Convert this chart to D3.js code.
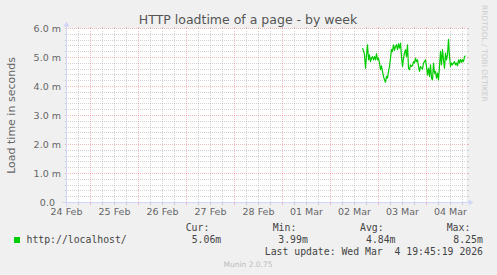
<!DOCTYPE html>
<html>
<head>
<meta charset="utf-8">
<script src="https://cdn.jsdelivr.net/npm/d3@7"></script>
<style>
    body { margin: 0; background: #f0f0f0; }
    svg { display: block; }
</style>
</head>
<body>
<div class="res"></div>
<script>
/**
 * DATA
 */
const title = 'HTTP loadtime of a page - by week';
const yLabel = 'Load time in seconds';
const yTicks = [0, 1, 2, 3, 4, 5, 6];
const yTickLabels = ['0.0\u00a0\u00a0', '1.0 m', '2.0 m', '3.0 m', '4.0 m', '5.0 m', '6.0 m'];
const dayTicks = ['2026-02-24', '2026-02-25', '2026-02-26', '2026-02-27', '2026-02-28',
    '2026-03-01', '2026-03-02', '2026-03-03', '2026-03-04'];
const dayTickLabels = ['24 Feb', '25 Feb', '26 Feb', '27 Feb', '28 Feb',
    '01 Mar', '02 Mar', '03 Mar', '04 Mar'];
const timeStart = '2026-02-24T00:00:00Z';
const timeEnd = '2026-03-04T08:00:00Z';

const seriesName = 'http://localhost/';
const seriesStart = '2026-03-02T04:00:00Z';
const seriesStepMin = 30;
// load time in milliseconds, one value per 30 minutes
const loadtime = [
    5.32, 5.24, 5.09, 4.63, 5.09, 5.44, 4.92, 5.09, 4.86, 4.98,
    5.03, 4.92, 5.03, 4.92, 5.13, 4.92, 4.98, 4.81, 4.58, 4.71,
    4.52, 4.35, 4.23, 4.15, 4.35, 4.29, 4.52, 4.69, 4.98, 5.27,
    5.21, 5.44, 5.25, 5.38, 5.44, 5.27, 5.47, 5.32, 5.50, 5.03,
    4.69, 4.98, 5.15, 5.27, 5.03, 5.44, 4.63, 4.58, 4.75, 4.69,
    4.72, 4.86, 4.81, 4.98, 4.86, 4.92, 4.69, 4.52, 4.69, 4.64,
    4.60, 4.81, 4.86, 4.92, 4.69, 4.40, 4.63, 4.35, 4.75, 4.29,
    4.23, 4.80, 4.46, 4.52, 4.29, 4.46, 4.23, 4.69, 5.21, 4.75,
    5.27, 4.92, 4.63, 5.15, 4.92, 5.09, 5.63, 5.03, 4.69, 4.81,
    4.75, 4.81, 4.86, 4.75, 4.81, 4.71, 4.92, 4.81, 4.94, 4.83,
    4.92, 4.86, 5.03, 5.06
];
const statNames = ['Cur:', 'Min:', 'Avg:', 'Max:'];
const statValues = ['5.06m', '3.99m', '4.84m', '8.25m'];
const lastUpdate = 'Last update: Wed Mar  4 19:45:19 2026';
const version = 'Munin 2.0.75';
const watermark = 'RRDTOOL / TOBI OETIKER';

/**
 * LAYOUT
 */
const W = 497, H = 275;
const plot = { left: 66.5, right: 466.5, top: 28.5, bottom: 202.5 };
const green = '#00cc00';
const fontColor = '#666666';
const textColor = '#444444';
const gridColor = 'rgba(143,143,143,0.4)';
const mgridColor = 'rgba(222,79,79,0.38)';
const axisColor = '#cfd6f8';

const svg = d3.select('div.res')
    .append('svg')
    .attr('width', W)
    .attr('height', H)
    .style('background', '#f0f0f0')
    .style('font-family', 'DejaVu Sans');

/**
 * SCALES
 */
const xScale = d3.scaleUtc()
    .domain([new Date(timeStart), new Date(timeEnd)])
    .range([plot.left, plot.right]);

const yScale = d3.scaleLinear()
    .domain([0, 6])
    .range([plot.bottom, plot.top]);

// canvas
svg.append('rect')
    .attr('x', plot.left)
    .attr('y', plot.top)
    .attr('width', plot.right - plot.left)
    .attr('height', plot.bottom - plot.top)
    .attr('fill', '#ffffff');

/**
 * GRID
 */
const grid = svg.append('g').attr('shape-rendering', 'crispEdges');

// vertical: minor every 6 hours, major at noon
const hours6 = d3.utcHour.every(6).range(new Date(timeStart), new Date(timeEnd));
const minorX = hours6.filter(d => d.getUTCHours() !== 12 && xScale(d) > plot.left);
const majorX = hours6.filter(d => d.getUTCHours() === 12);

// horizontal: minor every 0.2, major every 1.0
const minorY = yScale.ticks(30).filter(v => Math.abs(v - Math.round(v)) > 1e-6);

function vLines(list, color) {
    list.forEach(d => {
        const x = Math.round(xScale(d) - 0.5) + 0.5;
        grid.append('line').attr('x1', x).attr('x2', x)
            .attr('y1', plot.bottom - 1).attr('y2', plot.top + 1)
            .attr('stroke', color).attr('stroke-dasharray', '1,1');
        grid.append('line').attr('x1', x).attr('x2', x)
            .attr('y1', plot.bottom).attr('y2', plot.bottom + 2).attr('stroke', color);
        grid.append('line').attr('x1', x).attr('x2', x)
            .attr('y1', plot.top - 2).attr('y2', plot.top).attr('stroke', color);
    });
}
function hLines(list, color) {
    list.forEach(v => {
        const y = Math.round(yScale(v) - 0.5) + 0.5;
        grid.append('line').attr('y1', y).attr('y2', y)
            .attr('x1', plot.left + 1).attr('x2', plot.right - 1)
            .attr('stroke', color).attr('stroke-dasharray', '1,1');
        grid.append('line').attr('y1', y).attr('y2', y)
            .attr('x1', plot.left - 2).attr('x2', plot.left).attr('stroke', color);
        grid.append('line').attr('y1', y).attr('y2', y)
            .attr('x1', plot.right).attr('x2', plot.right + 2).attr('stroke', color);
    });
}
vLines(minorX, gridColor);
hLines(minorY, gridColor);
vLines(majorX, mgridColor);
hLines(yTicks.filter(v => v > 0), mgridColor);

/**
 * AXES
 */
svg.append('line')
    .attr('x1', plot.left - 4).attr('x2', plot.right + 4)
    .attr('y1', plot.bottom).attr('y2', plot.bottom)
    .attr('stroke', axisColor);
svg.append('line')
    .attr('x1', plot.left).attr('x2', plot.left)
    .attr('y1', plot.bottom + 4).attr('y2', plot.top - 4)
    .attr('stroke', axisColor);
svg.append('path')
    .attr('d', `M${plot.right + 2},${plot.bottom - 3}L${plot.right + 2},${plot.bottom + 3}L${plot.right + 7},${plot.bottom}Z`)
    .attr('fill', axisColor);
svg.append('path')
    .attr('d', `M${plot.left - 3},${plot.top - 2}L${plot.left + 3},${plot.top - 2}L${plot.left},${plot.top - 7}Z`)
    .attr('fill', axisColor);

// y tick labels
svg.append('g')
    .selectAll('text')
    .data(yTicks)
    .enter().append('text')
    .attr('x', 61)
    .attr('y', d => yScale(d) + 3.4)
    .attr('text-anchor', 'end')
    .attr('fill', fontColor)
    .style('font-size', '9.5px')
    .text((d, i) => yTickLabels[i]);

// x tick labels
svg.append('g')
    .selectAll('text')
    .data(dayTicks)
    .enter().append('text')
    .attr('x', d => xScale(new Date(d + 'T00:00:00Z')))
    .attr('y', plot.bottom + 12.5)
    .attr('text-anchor', 'middle')
    .attr('fill', fontColor)
    .style('font-size', '9.5px')
    .text((d, i) => dayTickLabels[i]);

/**
 * SERIES LINE
 */
const t0 = new Date(seriesStart).getTime();
const points = loadtime.map((v, i) => ({ t: new Date(t0 + i * seriesStepMin * 60000), v: v }));

svg.append('path')
    .datum(points)
    .attr('fill', 'none')
    .attr('stroke', green)
    .attr('stroke-width', 1.2)
    .attr('stroke-linejoin', 'round')
    .attr('d', d3.line().x(d => xScale(d.t)).y(d => yScale(d.v)));

/**
 * TITLES
 */
svg.append('text')
    .attr('x', 248)
    .attr('y', 23.5)
    .attr('text-anchor', 'middle')
    .attr('fill', '#555555')
    .style('font-size', '12.5px')
    .text(title);

svg.append('text')
    .attr('transform', `translate(15.3, ${(plot.top + plot.bottom) / 2}) rotate(-90)`)
    .attr('text-anchor', 'middle')
    .attr('fill', fontColor)
    .style('font-size', '11px')
    .text(yLabel);

svg.append('text')
    .attr('transform', 'translate(482, 5) rotate(90)')
    .attr('fill', '#cccccc')
    .style('font-size', '7.5px')
    .text(watermark);

/**
 * LEGEND
 */
const mono = 'DejaVu Sans Mono';
const legendFont = '9.8px';
const statX = [185.7, 272.7, 360, 446.7];
const valueX = [191.7, 278.3, 366, 453.3];

svg.append('rect')
    .attr('x', 14).attr('y', 237)
    .attr('width', 6).attr('height', 6)
    .attr('fill', green);

svg.append('text')
    .attr('x', 26.5).attr('y', 242.5)
    .attr('fill', textColor)
    .style('font-family', mono).style('font-size', legendFont)
    .text(seriesName);

svg.append('g').selectAll('text')
    .data(statNames)
    .enter().append('text')
    .attr('x', (d, i) => statX[i]).attr('y', 231.3)
    .attr('fill', textColor)
    .style('font-family', mono).style('font-size', legendFont)
    .text(d => d);

svg.append('g').selectAll('text')
    .data(statValues)
    .enter().append('text')
    .attr('x', (d, i) => valueX[i]).attr('y', 242.8)
    .attr('fill', textColor)
    .style('font-family', mono).style('font-size', legendFont)
    .text(d => d);

svg.append('text')
    .attr('x', 483).attr('y', 254.5)
    .attr('text-anchor', 'end')
    .attr('fill', textColor)
    .attr('xml:space', 'preserve')
    .style('white-space', 'pre')
    .style('font-family', mono).style('font-size', legendFont)
    .text(lastUpdate);

svg.append('text')
    .attr('x', 248).attr('y', 267)
    .attr('text-anchor', 'middle')
    .attr('fill', '#bbbbbb')
    .style('font-size', '7.5px')
    .text(version);
</script>
</body>
</html>
